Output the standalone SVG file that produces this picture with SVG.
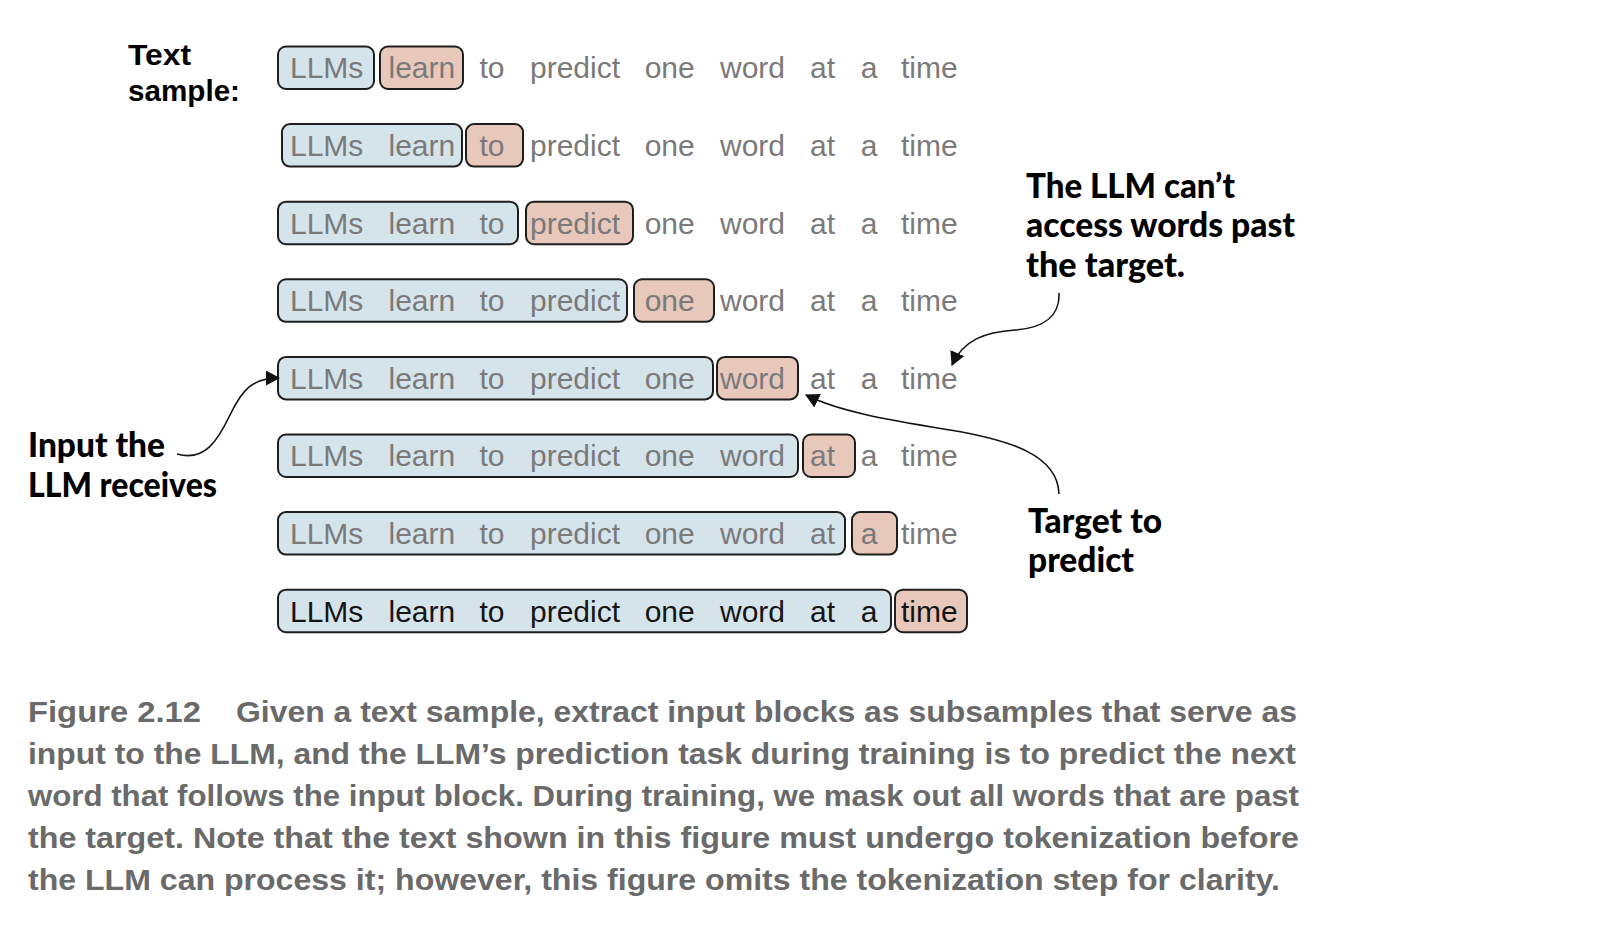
<svg xmlns="http://www.w3.org/2000/svg" width="1620" height="926" viewBox="0 0 1620 926">
<style>
.w{font-family:"Liberation Sans",Arial,sans-serif;font-size:30px;fill:#7a7a7a}
.k{fill:#151515}
.bi{fill:#d5e3eb;stroke:#1e1e1e;stroke-width:2}
.bt{fill:#e7c8bb;stroke:#1e1e1e;stroke-width:2}
.lbl{font-family:"Liberation Sans",Arial,sans-serif;font-size:30px;font-weight:bold;fill:#000}
.ann{font-family:Lato,"Open Sans",sans-serif;font-size:35px;font-weight:900;fill:#000}
.cap{font-family:"Liberation Sans",Arial,sans-serif;font-size:30px;font-weight:bold;fill:#6a6a6a}
.con{fill:none;stroke:#111;stroke-width:1.6}
</style>
<defs>
<marker id="ah" viewBox="0 0 14 15" refX="13" refY="7.5" markerWidth="14" markerHeight="15" markerUnits="userSpaceOnUse" orient="auto">
<path d="M0,0 L14,7.5 L0,15 z" fill="#111"/>
</marker>
</defs>
<rect width="1620" height="926" fill="#fff"/>

<g id="text-sample-label">
<text class="lbl" x="128" y="65" textLength="63" lengthAdjust="spacingAndGlyphs">Text</text>
<text class="lbl" x="128" y="101" textLength="112" lengthAdjust="spacingAndGlyphs">sample:</text>
</g>

<g id="row1">
<rect class="bi" x="278" y="46.5" width="96" height="42.5" rx="8"/>
<rect class="bt" x="380" y="46.5" width="83" height="42.5" rx="8"/>
<g class="w" transform="translate(0,78.3)">
<text x="290">LLMs</text><text x="388.5">learn</text><text x="479.4">to</text><text x="530">predict</text><text x="644.7">one</text><text x="720">word</text><text x="810">at</text><text x="860.7">a</text><text x="901">time</text>
</g>
</g>

<g id="row2">
<rect class="bi" x="282" y="124.1" width="180" height="42.5" rx="8"/>
<rect class="bt" x="466" y="124.1" width="57" height="42.5" rx="8"/>
<g class="w" transform="translate(0,155.9)">
<text x="290">LLMs</text><text x="388.5">learn</text><text x="479.4">to</text><text x="530">predict</text><text x="644.7">one</text><text x="720">word</text><text x="810">at</text><text x="860.7">a</text><text x="901">time</text>
</g>
</g>

<g id="row3">
<rect class="bi" x="278" y="201.7" width="240" height="42.5" rx="8"/>
<rect class="bt" x="526" y="201.7" width="107" height="42.5" rx="8"/>
<g class="w" transform="translate(0,233.5)">
<text x="290">LLMs</text><text x="388.5">learn</text><text x="479.4">to</text><text x="530">predict</text><text x="644.7">one</text><text x="720">word</text><text x="810">at</text><text x="860.7">a</text><text x="901">time</text>
</g>
</g>

<g id="row4">
<rect class="bi" x="278" y="279.3" width="349" height="42.5" rx="8"/>
<rect class="bt" x="634" y="279.3" width="80" height="42.5" rx="8"/>
<g class="w" transform="translate(0,311.1)">
<text x="290">LLMs</text><text x="388.5">learn</text><text x="479.4">to</text><text x="530">predict</text><text x="644.7">one</text><text x="720">word</text><text x="810">at</text><text x="860.7">a</text><text x="901">time</text>
</g>
</g>

<g id="row5">
<rect class="bi" x="278" y="356.9" width="435" height="42.5" rx="8"/>
<rect class="bt" x="717" y="356.9" width="81" height="42.5" rx="8"/>
<g class="w" transform="translate(0,388.7)">
<text x="290">LLMs</text><text x="388.5">learn</text><text x="479.4">to</text><text x="530">predict</text><text x="644.7">one</text><text x="720">word</text><text x="810">at</text><text x="860.7">a</text><text x="901">time</text>
</g>
</g>

<g id="row6">
<rect class="bi" x="278" y="434.5" width="520" height="42.5" rx="8"/>
<rect class="bt" x="803" y="434.5" width="52" height="42.5" rx="8"/>
<g class="w" transform="translate(0,466.3)">
<text x="290">LLMs</text><text x="388.5">learn</text><text x="479.4">to</text><text x="530">predict</text><text x="644.7">one</text><text x="720">word</text><text x="810">at</text><text x="860.7">a</text><text x="901">time</text>
</g>
</g>

<g id="row7">
<rect class="bi" x="278" y="512.1" width="567" height="42.5" rx="8"/>
<rect class="bt" x="852" y="512.1" width="45" height="42.5" rx="8"/>
<g class="w" transform="translate(0,543.9)">
<text x="290">LLMs</text><text x="388.5">learn</text><text x="479.4">to</text><text x="530">predict</text><text x="644.7">one</text><text x="720">word</text><text x="810">at</text><text x="860.7">a</text><text x="901">time</text>
</g>
</g>

<g id="row8">
<rect class="bi" x="278" y="589.7" width="613" height="42.5" rx="8"/>
<rect class="bt" x="895" y="589.7" width="72" height="42.5" rx="8"/>
<g class="w k" transform="translate(0,621.5)">
<text x="290">LLMs</text><text x="388.5">learn</text><text x="479.4">to</text><text x="530">predict</text><text x="644.7">one</text><text x="720">word</text><text x="810">at</text><text x="860.7">a</text><text x="901">time</text>
</g>
</g>

<g id="label-input">
<text class="ann" x="28" y="457" textLength="137" lengthAdjust="spacingAndGlyphs">Input the</text>
<text class="ann" x="28" y="497" textLength="189" lengthAdjust="spacingAndGlyphs">LLM receives</text>
</g>

<g id="label-cant">
<text class="ann" x="1026" y="198" textLength="209" lengthAdjust="spacingAndGlyphs">The LLM can’t</text>
<text class="ann" x="1026" y="237" textLength="269" lengthAdjust="spacingAndGlyphs">access words past</text>
<text class="ann" x="1026" y="277" textLength="159" lengthAdjust="spacingAndGlyphs">the target.</text>
</g>

<g id="label-target">
<text class="ann" x="1028" y="533" textLength="134" lengthAdjust="spacingAndGlyphs">Target to</text>
<text class="ann" x="1028" y="572" textLength="106" lengthAdjust="spacingAndGlyphs">predict</text>
</g>

<g id="connectors">
<path class="con" marker-end="url(#ah)" d="M177 454 C205 462,218 440,230 415 C242 390,252 378,279 378"/>
<path class="con" marker-end="url(#ah)" d="M1059 293 C1060 315,1045 328,1015 330 C985 332,963 340,952 365"/>
<path class="con" marker-end="url(#ah)" d="M1059 494 C1058 455,1010 440,950 430 C890 420,840 412,806 395"/>
</g>

<g id="caption">
<text class="cap" x="28" y="722" textLength="173" lengthAdjust="spacingAndGlyphs">Figure 2.12</text>
<text class="cap" x="236" y="722" textLength="1061" lengthAdjust="spacingAndGlyphs">Given a text sample, extract input blocks as subsamples that serve as</text>
<text class="cap" x="28" y="764" textLength="1268" lengthAdjust="spacingAndGlyphs">input to the LLM, and the LLM’s prediction task during training is to predict the next</text>
<text class="cap" x="28" y="806" textLength="1271" lengthAdjust="spacingAndGlyphs">word that follows the input block. During training, we mask out all words that are past</text>
<text class="cap" x="28" y="848" textLength="1271" lengthAdjust="spacingAndGlyphs">the target. Note that the text shown in this figure must undergo tokenization before</text>
<text class="cap" x="28" y="890" textLength="1252" lengthAdjust="spacingAndGlyphs">the LLM can process it; however, this figure omits the tokenization step for clarity.</text>
</g>
</svg>
